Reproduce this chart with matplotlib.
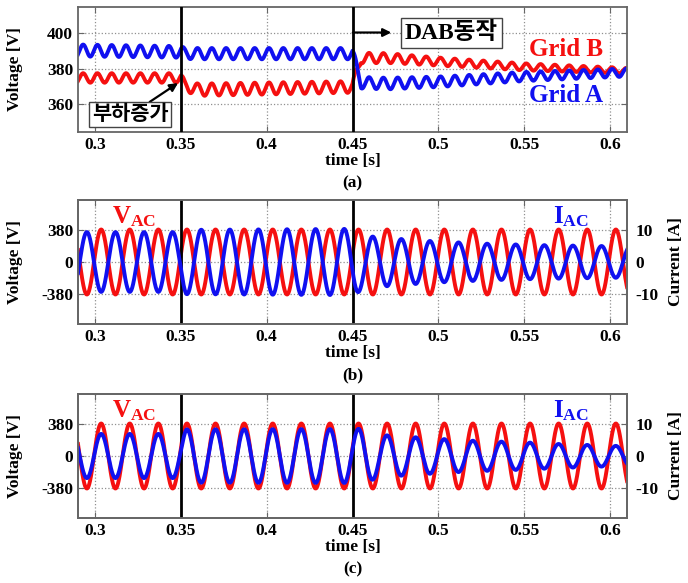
import numpy as np
import matplotlib
matplotlib.use('Agg')
import matplotlib.pyplot as plt

plt.rcParams['font.family'] = ['Liberation Serif', 'Noto Sans CJK KR']
plt.rcParams['font.weight'] = 'bold'
plt.rcParams['axes.unicode_minus'] = False
plt.rcParams['mathtext.fontset'] = 'custom'
plt.rcParams['mathtext.rm'] = 'Liberation Serif:bold'
plt.rcParams['mathtext.bf'] = 'Liberation Serif:bold'

# ---- data ----
# (a) dc voltage of the two grids: mean level and 120 Hz ripple amplitude at key times
t_a = [0.29, 0.35, 0.352, 0.36, 0.45, 0.455, 0.47, 0.50, 0.55, 0.61]
grid_b_mean = [374.7, 374.7, 370.5, 368.0, 369.6, 386.0, 386.0, 384.0, 381.0, 378.8]
grid_b_amp = [2.7, 2.7, 3.2, 3.5, 3.3, 3.0, 2.8, 2.3, 2.0, 1.6]
grid_a_mean = [390.3, 389.5, 388.7, 388.5, 388.5, 372.0, 371.5, 372.5, 375.5, 377.8]
grid_a_amp = [3.4, 3.3, 3.2, 3.2, 3.2, 3.3, 3.3, 3.0, 2.6, 2.3]
ripple_hz = 120
ripple_peak_t = 0.293

# (b), (c) ac voltage / current, 60 Hz
line_hz = 60
v_peak_t = 0.3035
v_ac_peak = 380
t_ib = [0.29, 0.35, 0.353, 0.45, 0.458, 0.48, 0.50, 0.53, 0.56, 0.61]
i_b_amp = [9.2, 9.2, 9.9, 10.2, 8.0, 7.0, 6.3, 5.6, 5.2, 4.8]
t_ic = [0.29, 0.35, 0.353, 0.45, 0.456, 0.466, 0.48, 0.50, 0.52, 0.55, 0.57, 0.61]
i_c_amp = [6.8, 6.8, 8.2, 8.3, 8.4, 6.5, 6.0, 5.3, 4.7, 4.2, 3.7, 3.0]

events = [0.35, 0.45]
xticks = [0.3, 0.35, 0.4, 0.45, 0.5, 0.55, 0.6]
xticklabels = ['0.3', '0.35', '0.4', '0.45', '0.5', '0.55', '0.6']

RED = '#f51010'
BLUE = '#1010f0'
FS = 12.5
t = np.linspace(0.29, 0.61, 6000)
ripple = np.cos(2 * np.pi * ripple_hz * (t - ripple_peak_t))
carrier = np.cos(2 * np.pi * line_hz * (t - v_peak_t))


def style_axis(ax):
    ax.set_xlim(0.29, 0.61)
    ax.set_xticks(xticks)
    ax.set_xticklabels(xticklabels)
    ax.grid(True, color='#909090', linestyle=':', linewidth=0.9)
    for s in ax.spines.values():
        s.set_color('#666666')
        s.set_linewidth(1.3)
    ax.tick_params(direction='in', length=4, labelsize=FS, color='#666666',
                   top=True, pad=3.5)
    for lab in ax.get_xticklabels() + ax.get_yticklabels():
        lab.set_fontweight('bold')
    for ev in events:
        ax.axvline(ev, color='black', linewidth=2, zorder=5)


fig = plt.figure(figsize=(6.88, 5.83), dpi=100)
W, H = 688, 583


def add_axes(top, bottom):
    return fig.add_axes([78 / W, 1 - bottom / H, (627 - 78) / W, (bottom - top) / H])


# ---- (a) ----
ax1 = add_axes(7, 132)
va = np.interp(t, t_a, grid_a_mean) + np.interp(t, t_a, grid_a_amp) * ripple
vb = np.interp(t, t_a, grid_b_mean) + np.interp(t, t_a, grid_b_amp) * ripple
ax1.plot(t, vb, color=RED, linewidth=2.8)
ax1.plot(t, va, color=BLUE, linewidth=2.8)
ax1.set_ylim(344, 415)
ax1.set_yticks([360, 380, 400])
ax1.tick_params(right=True)
style_axis(ax1)
ax1.text(0.553, 391, 'Grid B', color=RED, fontsize=18, fontweight='bold', va='center')
ax1.text(0.553, 364.5, 'Grid A', color=BLUE, fontsize=18, fontweight='bold', va='center')
ax1.annotate('부하증가', xy=(0.3483, 371.8), xytext=(0.3204, 353.7),
             ha='center', va='center', fontsize=15, fontweight='bold',
             bbox=dict(boxstyle='square,pad=0.12', fc='white', ec='#444444', lw=1),
             arrowprops=dict(arrowstyle='-|>', color='black', lw=1.6,
                             shrinkA=0, shrinkB=0, mutation_scale=12), zorder=6)
ax1.annotate('', xy=(0.4726, 400.5), xytext=(0.4502, 400.5),
             arrowprops=dict(arrowstyle='-|>', color='black', lw=1.6,
                             shrinkA=0, shrinkB=0, mutation_scale=12), zorder=6)
ax1.text(0.5077, 400.2, 'DAB동작', ha='center', va='center', fontsize=17,
         fontweight='bold', zorder=6,
         bbox=dict(boxstyle='square,pad=0.18', fc='white', ec='#444444', lw=1))

panels = [(ax1, 132, '(a)')]

# ---- (b), (c) ----
for top, bottom, amps, tk, sign, tag in [(200, 324, i_b_amp, t_ib, -1, '(b)'),
                                         (394, 518, i_c_amp, t_ic, 1, '(c)')]:
    ax = add_axes(top, bottom)
    axr = ax.twinx()
    ax.plot(t, v_ac_peak * carrier, color=RED, linewidth=2.8)
    axr.plot(t, sign * np.interp(t, tk, amps) * carrier, color=BLUE, linewidth=2.8)
    ax.set_ylim(-725, 725)
    ax.set_yticks([-380, 0, 380])
    axr.set_ylim(-725 / 38, 725 / 38)
    axr.set_yticks([-10, 0, 10])
    style_axis(ax)
    axr.tick_params(direction='in', length=4, labelsize=FS, color='#666666', pad=6)
    for lab in axr.get_yticklabels():
        lab.set_fontweight('bold')
    for s in axr.spines.values():
        s.set_color('#666666')
        s.set_linewidth(1.3)
    axr.set_ylabel('Current [A]', fontsize=FS, fontweight='bold')
    axr.yaxis.set_label_coords((668 - 78) / 549, 0.5)
    ax.text(0.062, 0.865, r'$\mathbf{V_{AC}}$', transform=ax.transAxes,
            color=RED, fontsize=18, va='center')
    ax.text(0.865, 0.865, r'$\mathbf{I_{AC}}$', transform=ax.transAxes,
            color=BLUE, fontsize=18, va='center')
    panels.append((ax, bottom, tag))

for ax, bottom, tag in panels:
    ax.set_ylabel('Voltage [V]', fontsize=FS, fontweight='bold')
    ax.yaxis.set_label_coords(-0.100, 0.5)
    fig.text(352.5 / W, 1 - (bottom + 29) / H, 'time [s]', ha='center', va='center',
             fontsize=FS, fontweight='bold')
    fig.text(352.5 / W, 1 - (bottom + 51) / H, tag, ha='center', va='center',
             fontsize=FS, fontweight='bold')

fig.savefig('out.png', dpi=100)
